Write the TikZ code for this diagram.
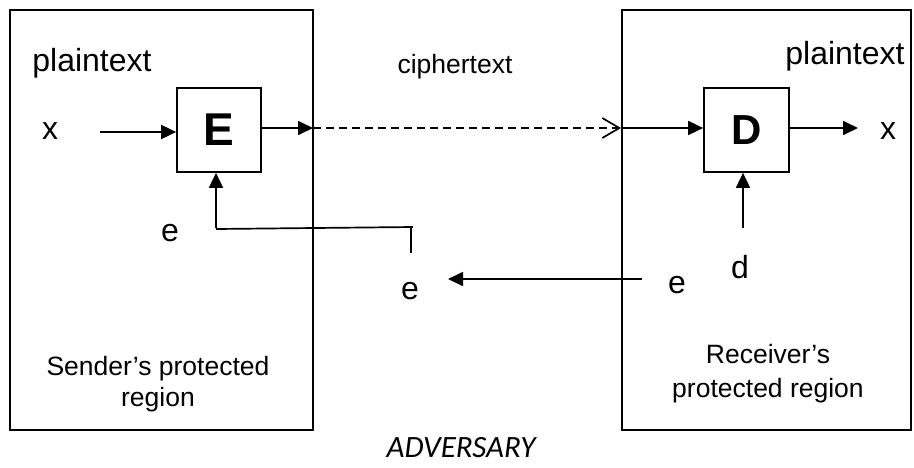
\documentclass[tikz,border=0pt]{standalone}
\usepackage{fontspec}
\setmainfont{Liberation Sans}
\newfontfamily\advfont{Carlito}
\usetikzlibrary{arrows.meta}
\tikzset{
  region/.style={draw, line width=1.7pt},
  cipherbox/.style={draw, line width=1.7pt, minimum width=84pt, minimum height=84pt, inner sep=0pt},
  lbl/.style={anchor=base, inner sep=0pt, font=\fontsize{32}{38}\selectfont},
  small/.style={anchor=base, inner sep=0pt, font=\fontsize{26.5}{31}\selectfont},
  conn/.style={line width=1.7pt, -{Triangle[length=15pt,width=14pt]}},
  plain/.style={line width=1.7pt},
  dashconn/.style={line width=1.7pt, dash pattern=on 8pt off 5pt, -{Straight Barb[length=17pt,width=20pt,line width=1.7pt]}}
}
\begin{document}
\begin{tikzpicture}[x=1pt,y=-1pt]
\useasboundingbox (0,0) rectangle (914,467);
% protected regions
\node[region, minimum width=303pt, minimum height=420pt, inner sep=0pt] (sender) at (161.5,220) {};
\node[region, minimum width=289pt, minimum height=420pt, inner sep=0pt] (receiver) at (766.5,220) {};
% cipher boxes
\node[cipherbox, font=\fontsize{46}{50}\selectfont\bfseries] (E) at (219,130) {E};
\node[cipherbox, minimum width=85pt, font=\fontsize{42}{46}\selectfont\bfseries] (D) at (746.5,130) {D};
% labels
\node[lbl] (pt1) at (92,71) {plaintext};
\node[lbl] (pt2) at (845,64) {plaintext};
\node[small] (ct) at (455,73) {ciphertext};
\node[lbl] (x1) at (50,139) {x};
\node[lbl] (x2) at (888,139) {x};
\node[lbl] (e1) at (170,241) {e};
\node[lbl] (e2) at (410,299) {e};
\node[lbl] (e3) at (677,293) {e};
\node[lbl] (d1) at (740,278) {d};
\node[small] (s1) at (158,375) {Sender’s protected};
\node[small] (s2) at (158,406) {region};
\node[small] (r1) at (768,363) {Receiver’s};
\node[small] (r2) at (768,397) {protected region};
\node[anchor=base, inner sep=0pt, font=\advfont\itshape\fontsize{31}{36}\selectfont] (adv) at (461,457) {ADVERSARY};
% free ends
\coordinate (xin) at (100,132);
\coordinate (eout) at (313,128);
\coordinate (din) at (622,128);
\coordinate (xout) at (858,128);
\coordinate (ebot) at (216,228);
\coordinate (hend) at (413,227);
\coordinate (tickt) at (411,227);
\coordinate (tickb) at (411,253);
\coordinate (mfrom) at (642,279);
\coordinate (mto) at (448,279);
\coordinate (dbot) at (743,228);
% connectors
\draw[conn] (xin) -- (xin -| E.west);
\draw[conn] (eout -| E.east) -- (eout);
\draw[dashconn] (eout) -- ([xshift=-1pt]din);
\draw[conn] (din) -- (din -| D.west);
\draw[conn] (din -| D.east) -- (xout);
\draw[conn] (ebot) -- (ebot |- E.south);
\draw[plain] ([yshift=-1pt]ebot) -- (hend);
\draw[plain] (tickt) -- (tickb);
\draw[conn] (mfrom) -- (mto);
\draw[conn] (dbot) -- (dbot |- D.south);
\end{tikzpicture}
\end{document}
